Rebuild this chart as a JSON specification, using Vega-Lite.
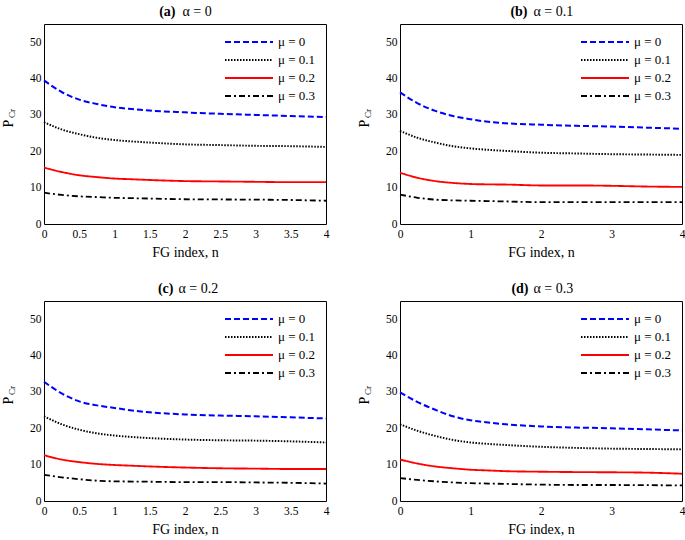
{
"$schema": "https://vega.github.io/schema/vega-lite/v6.json",
"background": "white",
"padding": {"left": 0, "top": 3, "right": 0, "bottom": 0},
"datasets": {
"a": [
{"n":0,"mu":"μ = 0","P":39.5},{"n":0.25,"mu":"μ = 0","P":36.3},{"n":0.5,"mu":"μ = 0","P":34.2},{"n":0.75,"mu":"μ = 0","P":33.0},{"n":1,"mu":"μ = 0","P":32.1},{"n":1.25,"mu":"μ = 0","P":31.6},{"n":1.5,"mu":"μ = 0","P":31.2},{"n":2,"mu":"μ = 0","P":30.7},{"n":2.5,"mu":"μ = 0","P":30.3},{"n":3,"mu":"μ = 0","P":30.0},{"n":3.5,"mu":"μ = 0","P":29.7},{"n":4,"mu":"μ = 0","P":29.4},
{"n":0,"mu":"μ = 0.1","P":28.0},{"n":0.25,"mu":"μ = 0.1","P":26.0},{"n":0.5,"mu":"μ = 0.1","P":24.7},{"n":0.75,"mu":"μ = 0.1","P":23.7},{"n":1,"mu":"μ = 0.1","P":23.1},{"n":1.25,"mu":"μ = 0.1","P":22.7},{"n":1.5,"mu":"μ = 0.1","P":22.4},{"n":2,"mu":"μ = 0.1","P":21.9},{"n":2.5,"mu":"μ = 0.1","P":21.7},{"n":3,"mu":"μ = 0.1","P":21.5},{"n":3.5,"mu":"μ = 0.1","P":21.4},{"n":4,"mu":"μ = 0.1","P":21.2},
{"n":0,"mu":"μ = 0.2","P":15.5},{"n":0.25,"mu":"μ = 0.2","P":14.3},{"n":0.5,"mu":"μ = 0.2","P":13.4},{"n":0.75,"mu":"μ = 0.2","P":12.9},{"n":1,"mu":"μ = 0.2","P":12.5},{"n":1.25,"mu":"μ = 0.2","P":12.3},{"n":1.5,"mu":"μ = 0.2","P":12.1},{"n":2,"mu":"μ = 0.2","P":11.8},{"n":2.5,"mu":"μ = 0.2","P":11.7},{"n":3,"mu":"μ = 0.2","P":11.6},{"n":3.5,"mu":"μ = 0.2","P":11.5},{"n":4,"mu":"μ = 0.2","P":11.5},
{"n":0,"mu":"μ = 0.3","P":8.6},{"n":0.25,"mu":"μ = 0.3","P":8.0},{"n":0.5,"mu":"μ = 0.3","P":7.6},{"n":0.75,"mu":"μ = 0.3","P":7.4},{"n":1,"mu":"μ = 0.3","P":7.2},{"n":1.25,"mu":"μ = 0.3","P":7.1},{"n":1.5,"mu":"μ = 0.3","P":7.0},{"n":2,"mu":"μ = 0.3","P":6.8},{"n":2.5,"mu":"μ = 0.3","P":6.75},{"n":3,"mu":"μ = 0.3","P":6.7},{"n":3.5,"mu":"μ = 0.3","P":6.6},{"n":4,"mu":"μ = 0.3","P":6.4}
],
"b": [
{"n":0,"mu":"μ = 0","P":36.2},{"n":0.25,"mu":"μ = 0","P":33.2},{"n":0.5,"mu":"μ = 0","P":31.1},{"n":0.75,"mu":"μ = 0","P":29.7},{"n":1,"mu":"μ = 0","P":28.8},{"n":1.25,"mu":"μ = 0","P":28.1},{"n":1.5,"mu":"μ = 0","P":27.7},{"n":2,"mu":"μ = 0","P":27.3},{"n":2.5,"mu":"μ = 0","P":27.0},{"n":3,"mu":"μ = 0","P":26.8},{"n":3.5,"mu":"μ = 0","P":26.5},{"n":4,"mu":"μ = 0","P":26.2},
{"n":0,"mu":"μ = 0.1","P":25.6},{"n":0.25,"mu":"μ = 0.1","P":23.7},{"n":0.5,"mu":"μ = 0.1","P":22.4},{"n":0.75,"mu":"μ = 0.1","P":21.4},{"n":1,"mu":"μ = 0.1","P":20.8},{"n":1.25,"mu":"μ = 0.1","P":20.4},{"n":1.5,"mu":"μ = 0.1","P":20.1},{"n":2,"mu":"μ = 0.1","P":19.6},{"n":2.5,"mu":"μ = 0.1","P":19.4},{"n":3,"mu":"μ = 0.1","P":19.2},{"n":3.5,"mu":"μ = 0.1","P":19.1},{"n":4,"mu":"μ = 0.1","P":19.0},
{"n":0,"mu":"μ = 0.2","P":14.1},{"n":0.25,"mu":"μ = 0.2","P":12.7},{"n":0.5,"mu":"μ = 0.2","P":11.8},{"n":0.75,"mu":"μ = 0.2","P":11.3},{"n":1,"mu":"μ = 0.2","P":11.0},{"n":1.25,"mu":"μ = 0.2","P":10.9},{"n":1.5,"mu":"μ = 0.2","P":10.85},{"n":2,"mu":"μ = 0.2","P":10.6},{"n":2.5,"mu":"μ = 0.2","P":10.6},{"n":3,"mu":"μ = 0.2","P":10.5},{"n":3.5,"mu":"μ = 0.2","P":10.3},{"n":4,"mu":"μ = 0.2","P":10.2},
{"n":0,"mu":"μ = 0.3","P":8.1},{"n":0.25,"mu":"μ = 0.3","P":7.2},{"n":0.5,"mu":"μ = 0.3","P":6.7},{"n":0.75,"mu":"μ = 0.3","P":6.5},{"n":1,"mu":"μ = 0.3","P":6.4},{"n":1.25,"mu":"μ = 0.3","P":6.3},{"n":1.5,"mu":"μ = 0.3","P":6.2},{"n":2,"mu":"μ = 0.3","P":6.0},{"n":2.5,"mu":"μ = 0.3","P":6.0},{"n":3,"mu":"μ = 0.3","P":6.0},{"n":3.5,"mu":"μ = 0.3","P":6.0},{"n":4,"mu":"μ = 0.3","P":6.0}
],
"c": [
{"n":0,"mu":"μ = 0","P":32.8},{"n":0.25,"mu":"μ = 0","P":29.6},{"n":0.5,"mu":"μ = 0","P":27.4},{"n":0.75,"mu":"μ = 0","P":26.3},{"n":1,"mu":"μ = 0","P":25.6},{"n":1.25,"mu":"μ = 0","P":24.9},{"n":1.5,"mu":"μ = 0","P":24.4},{"n":2,"mu":"μ = 0","P":23.8},{"n":2.5,"mu":"μ = 0","P":23.5},{"n":3,"mu":"μ = 0","P":23.3},{"n":3.5,"mu":"μ = 0","P":23.0},{"n":4,"mu":"μ = 0","P":22.7},
{"n":0,"mu":"μ = 0.1","P":23.3},{"n":0.25,"mu":"μ = 0.1","P":21.1},{"n":0.5,"mu":"μ = 0.1","P":19.6},{"n":0.75,"mu":"μ = 0.1","P":18.6},{"n":1,"mu":"μ = 0.1","P":18.0},{"n":1.25,"mu":"μ = 0.1","P":17.6},{"n":1.5,"mu":"μ = 0.1","P":17.3},{"n":2,"mu":"μ = 0.1","P":16.9},{"n":2.5,"mu":"μ = 0.1","P":16.7},{"n":3,"mu":"μ = 0.1","P":16.6},{"n":3.5,"mu":"μ = 0.1","P":16.4},{"n":4,"mu":"μ = 0.1","P":16.1},
{"n":0,"mu":"μ = 0.2","P":12.6},{"n":0.25,"mu":"μ = 0.2","P":11.4},{"n":0.5,"mu":"μ = 0.2","P":10.7},{"n":0.75,"mu":"μ = 0.2","P":10.2},{"n":1,"mu":"μ = 0.2","P":9.9},{"n":1.25,"mu":"μ = 0.2","P":9.7},{"n":1.5,"mu":"μ = 0.2","P":9.5},{"n":2,"mu":"μ = 0.2","P":9.2},{"n":2.5,"mu":"μ = 0.2","P":9.0},{"n":3,"mu":"μ = 0.2","P":8.9},{"n":3.5,"mu":"μ = 0.2","P":8.8},{"n":4,"mu":"μ = 0.2","P":8.8},
{"n":0,"mu":"μ = 0.3","P":7.2},{"n":0.25,"mu":"μ = 0.3","P":6.5},{"n":0.5,"mu":"μ = 0.3","P":6.0},{"n":0.75,"mu":"μ = 0.3","P":5.6},{"n":1,"mu":"μ = 0.3","P":5.4},{"n":1.25,"mu":"μ = 0.3","P":5.35},{"n":1.5,"mu":"μ = 0.3","P":5.3},{"n":2,"mu":"μ = 0.3","P":5.2},{"n":2.5,"mu":"μ = 0.3","P":5.2},{"n":3,"mu":"μ = 0.3","P":5.1},{"n":3.5,"mu":"μ = 0.3","P":5.0},{"n":4,"mu":"μ = 0.3","P":4.8}
],
"d": [
{"n":0,"mu":"μ = 0","P":29.9},{"n":0.25,"mu":"μ = 0","P":27.2},{"n":0.5,"mu":"μ = 0","P":25.1},{"n":0.75,"mu":"μ = 0","P":23.3},{"n":1,"mu":"μ = 0","P":22.2},{"n":1.25,"mu":"μ = 0","P":21.6},{"n":1.5,"mu":"μ = 0","P":21.1},{"n":2,"mu":"μ = 0","P":20.5},{"n":2.5,"mu":"μ = 0","P":20.2},{"n":3,"mu":"μ = 0","P":20.0},{"n":3.5,"mu":"μ = 0","P":19.7},{"n":4,"mu":"μ = 0","P":19.4},
{"n":0,"mu":"μ = 0.1","P":21.1},{"n":0.25,"mu":"μ = 0.1","P":19.3},{"n":0.5,"mu":"μ = 0.1","P":17.9},{"n":0.75,"mu":"μ = 0.1","P":16.8},{"n":1,"mu":"μ = 0.1","P":16.1},{"n":1.25,"mu":"μ = 0.1","P":15.7},{"n":1.5,"mu":"μ = 0.1","P":15.4},{"n":2,"mu":"μ = 0.1","P":14.9},{"n":2.5,"mu":"μ = 0.1","P":14.6},{"n":3,"mu":"μ = 0.1","P":14.4},{"n":3.5,"mu":"μ = 0.1","P":14.3},{"n":4,"mu":"μ = 0.1","P":14.2},
{"n":0,"mu":"μ = 0.2","P":11.4},{"n":0.25,"mu":"μ = 0.2","P":10.3},{"n":0.5,"mu":"μ = 0.2","P":9.5},{"n":0.75,"mu":"μ = 0.2","P":9.0},{"n":1,"mu":"μ = 0.2","P":8.6},{"n":1.25,"mu":"μ = 0.2","P":8.4},{"n":1.5,"mu":"μ = 0.2","P":8.2},{"n":2,"mu":"μ = 0.2","P":8.05},{"n":2.5,"mu":"μ = 0.2","P":7.95},{"n":3,"mu":"μ = 0.2","P":7.9},{"n":3.5,"mu":"μ = 0.2","P":7.8},{"n":4,"mu":"μ = 0.2","P":7.5},
{"n":0,"mu":"μ = 0.3","P":6.3},{"n":0.25,"mu":"μ = 0.3","P":5.8},{"n":0.5,"mu":"μ = 0.3","P":5.4},{"n":0.75,"mu":"μ = 0.3","P":5.1},{"n":1,"mu":"μ = 0.3","P":4.9},{"n":1.25,"mu":"μ = 0.3","P":4.8},{"n":1.5,"mu":"μ = 0.3","P":4.7},{"n":2,"mu":"μ = 0.3","P":4.5},{"n":2.5,"mu":"μ = 0.3","P":4.4},{"n":3,"mu":"μ = 0.3","P":4.4},{"n":3.5,"mu":"μ = 0.3","P":4.35},{"n":4,"mu":"μ = 0.3","P":4.3}
]
},
"vconcat": [
{"hconcat": [
{"width": 282, "height": 200, "data": {"name": "a"},
 "layer": [
  {"mark": {"type": "line", "interpolate": "monotone"},
   "encoding": {
    "x": {"field": "n", "type": "quantitative", "scale": {"domain": [0, 4], "nice": false},
      "axis": {"orient": "bottom", "values": [0,0.1,0.2,0.3,0.4,0.5,0.6,0.7,0.8,0.9,1,1.1,1.2,1.3,1.4,1.5,1.6,1.7,1.8,1.9,2,2.1,2.2,2.3,2.4,2.5,2.6,2.7,2.8,2.9,3,3.1,3.2,3.3,3.4,3.5,3.6,3.7,3.8,3.9,4],
        "labelExpr": "abs(datum.value*2-round(datum.value*2))<0.01 ? ''+datum.value : ''", "labelPadding": 4, "title": "FG index, n", "titlePadding": 6,
        "encode": {"ticks": {"update": {"y2": {"signal": "abs(datum.value*2-round(datum.value*2))<0.01 ? -5 : -3"}}}}}},
    "y": {"field": "P", "type": "quantitative", "scale": {"domain": [0, 55], "nice": false},
      "axis": {"orient": "left", "values": [0,2,4,6,8,10,12,14,16,18,20,22,24,26,28,30,32,34,36,38,40,42,44,46,48,50,52,54],
        "labelExpr": "datum.value%10==0 ? ''+datum.value : ''", "labelPadding": 3,
        "title": "P", "titleX": -32, "titleY": 99, "titleAngle": 270, "titleAlign": "center", "titleBaseline": "alphabetic", "titleFontSize": 14,
        "encode": {"ticks": {"update": {"x2": {"signal": "datum.value%10==0 ? 5 : 3"}}}}}},
    "color": {"field": "mu", "type": "nominal", "scale": {"domain": ["μ = 0","μ = 0.1","μ = 0.2","μ = 0.3"], "range": ["#0000ff","#000000","#ff0000","#000000"]}, "legend": {"title": null}},
    "strokeDash": {"field": "mu", "type": "nominal", "scale": {"domain": ["μ = 0","μ = 0.1","μ = 0.2","μ = 0.3"], "range": [[6,3],[1.5,1.5],[1,0],[6,3,2,3]]}, "legend": {"title": null}},
    "strokeWidth": {"field": "mu", "type": "nominal", "scale": {"domain": ["μ = 0","μ = 0.1","μ = 0.2","μ = 0.3"], "range": [2,1.8,2.5,2]}, "legend": {"title": null}}
   }},
  {"mark": {"type": "point", "opacity": 0},
   "encoding": {
    "x": {"field": "n", "type": "quantitative", "axis": {"orient": "top", "values": [0,0.1,0.2,0.3,0.4,0.5,0.6,0.7,0.8,0.9,1,1.1,1.2,1.3,1.4,1.5,1.6,1.7,1.8,1.9,2,2.1,2.2,2.3,2.4,2.5,2.6,2.7,2.8,2.9,3,3.1,3.2,3.3,3.4,3.5,3.6,3.7,3.8,3.9,4], "labels": false,
      "title": "(a)", "titleFontWeight": "bold", "titleAlign": "right", "titleBaseline": "alphabetic", "titleX": 131, "titleY": -9, "titleAngle": 0,
      "encode": {"ticks": {"update": {"y2": {"signal": "abs(datum.value*2-round(datum.value*2))<0.01 ? 5 : 3"}}}}}},
    "y": {"field": "P", "type": "quantitative", "axis": {"orient": "right", "values": [0,2,4,6,8,10,12,14,16,18,20,22,24,26,28,30,32,34,36,38,40,42,44,46,48,50,52,54], "labels": false, "title": null,
      "encode": {"ticks": {"update": {"x2": {"signal": "datum.value%10==0 ? -5 : -3"}}}}}}
   }},
  {"mark": {"type": "point", "opacity": 0},
   "encoding": {
    "x": {"field": "n", "type": "quantitative", "axis": {"orient": "top", "labels": false, "ticks": false, "title": "α = 0", "titleAlign": "left", "titleBaseline": "alphabetic", "titleX": 138, "titleY": -9, "titleAngle": 0}},
    "y": {"field": "P", "type": "quantitative", "axis": {"orient": "left", "labels": false, "ticks": false, "title": "Cr", "titleX": -30, "titleY": 89, "titleAngle": 270, "titleAlign": "center", "titleBaseline": "alphabetic", "titleFontSize": 9}}
   }}
 ],
 "resolve": {"axis": {"x": "independent", "y": "independent"}}
},
{"width": 282, "height": 200, "data": {"name": "b"},
 "layer": [
  {"mark": {"type": "line", "interpolate": "monotone"},
   "encoding": {
    "x": {"field": "n", "type": "quantitative", "scale": {"domain": [0, 4], "nice": false},
      "axis": {"orient": "bottom", "values": [0,0.1,0.2,0.3,0.4,0.5,0.6,0.7,0.8,0.9,1,1.1,1.2,1.3,1.4,1.5,1.6,1.7,1.8,1.9,2,2.1,2.2,2.3,2.4,2.5,2.6,2.7,2.8,2.9,3,3.1,3.2,3.3,3.4,3.5,3.6,3.7,3.8,3.9,4],
        "labelExpr": "abs(datum.value-round(datum.value))<0.01 ? ''+datum.value : ''", "labelPadding": 4, "title": "FG index, n", "titlePadding": 6,
        "encode": {"ticks": {"update": {"y2": {"signal": "abs(datum.value-round(datum.value))<0.01 ? -5 : -3"}}}}}},
    "y": {"field": "P", "type": "quantitative", "scale": {"domain": [0, 55], "nice": false},
      "axis": {"orient": "left", "values": [0,2,4,6,8,10,12,14,16,18,20,22,24,26,28,30,32,34,36,38,40,42,44,46,48,50,52,54],
        "labelExpr": "datum.value%10==0 ? ''+datum.value : ''", "labelPadding": 3,
        "title": "P", "titleX": -32, "titleY": 99, "titleAngle": 270, "titleAlign": "center", "titleBaseline": "alphabetic", "titleFontSize": 14,
        "encode": {"ticks": {"update": {"x2": {"signal": "datum.value%10==0 ? 5 : 3"}}}}}},
    "color": {"field": "mu", "type": "nominal", "scale": {"domain": ["μ = 0","μ = 0.1","μ = 0.2","μ = 0.3"], "range": ["#0000ff","#000000","#ff0000","#000000"]}, "legend": {"title": null}},
    "strokeDash": {"field": "mu", "type": "nominal", "scale": {"domain": ["μ = 0","μ = 0.1","μ = 0.2","μ = 0.3"], "range": [[6,3],[1.5,1.5],[1,0],[6,3,2,3]]}, "legend": {"title": null}},
    "strokeWidth": {"field": "mu", "type": "nominal", "scale": {"domain": ["μ = 0","μ = 0.1","μ = 0.2","μ = 0.3"], "range": [2,1.8,2.5,2]}, "legend": {"title": null}}
   }},
  {"mark": {"type": "point", "opacity": 0},
   "encoding": {
    "x": {"field": "n", "type": "quantitative", "axis": {"orient": "top", "values": [0,0.1,0.2,0.3,0.4,0.5,0.6,0.7,0.8,0.9,1,1.1,1.2,1.3,1.4,1.5,1.6,1.7,1.8,1.9,2,2.1,2.2,2.3,2.4,2.5,2.6,2.7,2.8,2.9,3,3.1,3.2,3.3,3.4,3.5,3.6,3.7,3.8,3.9,4], "labels": false,
      "title": "(b)", "titleFontWeight": "bold", "titleAlign": "right", "titleBaseline": "alphabetic", "titleX": 127, "titleY": -9, "titleAngle": 0,
      "encode": {"ticks": {"update": {"y2": {"signal": "abs(datum.value-round(datum.value))<0.01 ? 5 : 3"}}}}}},
    "y": {"field": "P", "type": "quantitative", "axis": {"orient": "right", "values": [0,2,4,6,8,10,12,14,16,18,20,22,24,26,28,30,32,34,36,38,40,42,44,46,48,50,52,54], "labels": false, "title": null,
      "encode": {"ticks": {"update": {"x2": {"signal": "datum.value%10==0 ? -5 : -3"}}}}}}
   }},
  {"mark": {"type": "point", "opacity": 0},
   "encoding": {
    "x": {"field": "n", "type": "quantitative", "axis": {"orient": "top", "labels": false, "ticks": false, "title": "α = 0.1", "titleAlign": "left", "titleBaseline": "alphabetic", "titleX": 133, "titleY": -9, "titleAngle": 0}},
    "y": {"field": "P", "type": "quantitative", "axis": {"orient": "left", "labels": false, "ticks": false, "title": "Cr", "titleX": -30, "titleY": 89, "titleAngle": 270, "titleAlign": "center", "titleBaseline": "alphabetic", "titleFontSize": 9}}
   }}
 ],
 "resolve": {"axis": {"x": "independent", "y": "independent"}}
}
], "spacing": 25,
"resolve": {"scale": {"color": "independent", "strokeDash": "independent", "strokeWidth": "independent"}, "legend": {"color": "independent", "strokeDash": "independent", "strokeWidth": "independent"}}},
{"hconcat": [
{"width": 282, "height": 200, "data": {"name": "c"},
 "layer": [
  {"mark": {"type": "line", "interpolate": "monotone"},
   "encoding": {
    "x": {"field": "n", "type": "quantitative", "scale": {"domain": [0, 4], "nice": false},
      "axis": {"orient": "bottom", "values": [0,0.1,0.2,0.3,0.4,0.5,0.6,0.7,0.8,0.9,1,1.1,1.2,1.3,1.4,1.5,1.6,1.7,1.8,1.9,2,2.1,2.2,2.3,2.4,2.5,2.6,2.7,2.8,2.9,3,3.1,3.2,3.3,3.4,3.5,3.6,3.7,3.8,3.9,4],
        "labelExpr": "abs(datum.value*2-round(datum.value*2))<0.01 ? ''+datum.value : ''", "labelPadding": 4, "title": "FG index, n", "titlePadding": 6,
        "encode": {"ticks": {"update": {"y2": {"signal": "abs(datum.value*2-round(datum.value*2))<0.01 ? -5 : -3"}}}}}},
    "y": {"field": "P", "type": "quantitative", "scale": {"domain": [0, 55], "nice": false},
      "axis": {"orient": "left", "values": [0,2,4,6,8,10,12,14,16,18,20,22,24,26,28,30,32,34,36,38,40,42,44,46,48,50,52,54],
        "labelExpr": "datum.value%10==0 ? ''+datum.value : ''", "labelPadding": 3,
        "title": "P", "titleX": -32, "titleY": 99, "titleAngle": 270, "titleAlign": "center", "titleBaseline": "alphabetic", "titleFontSize": 14,
        "encode": {"ticks": {"update": {"x2": {"signal": "datum.value%10==0 ? 5 : 3"}}}}}},
    "color": {"field": "mu", "type": "nominal", "scale": {"domain": ["μ = 0","μ = 0.1","μ = 0.2","μ = 0.3"], "range": ["#0000ff","#000000","#ff0000","#000000"]}, "legend": {"title": null}},
    "strokeDash": {"field": "mu", "type": "nominal", "scale": {"domain": ["μ = 0","μ = 0.1","μ = 0.2","μ = 0.3"], "range": [[6,3],[1.5,1.5],[1,0],[6,3,2,3]]}, "legend": {"title": null}},
    "strokeWidth": {"field": "mu", "type": "nominal", "scale": {"domain": ["μ = 0","μ = 0.1","μ = 0.2","μ = 0.3"], "range": [2,1.8,2.5,2]}, "legend": {"title": null}}
   }},
  {"mark": {"type": "point", "opacity": 0},
   "encoding": {
    "x": {"field": "n", "type": "quantitative", "axis": {"orient": "top", "values": [0,0.1,0.2,0.3,0.4,0.5,0.6,0.7,0.8,0.9,1,1.1,1.2,1.3,1.4,1.5,1.6,1.7,1.8,1.9,2,2.1,2.2,2.3,2.4,2.5,2.6,2.7,2.8,2.9,3,3.1,3.2,3.3,3.4,3.5,3.6,3.7,3.8,3.9,4], "labels": false,
      "title": "(c)", "titleFontWeight": "bold", "titleAlign": "right", "titleBaseline": "alphabetic", "titleX": 129, "titleY": -9, "titleAngle": 0,
      "encode": {"ticks": {"update": {"y2": {"signal": "abs(datum.value*2-round(datum.value*2))<0.01 ? 5 : 3"}}}}}},
    "y": {"field": "P", "type": "quantitative", "axis": {"orient": "right", "values": [0,2,4,6,8,10,12,14,16,18,20,22,24,26,28,30,32,34,36,38,40,42,44,46,48,50,52,54], "labels": false, "title": null,
      "encode": {"ticks": {"update": {"x2": {"signal": "datum.value%10==0 ? -5 : -3"}}}}}}
   }},
  {"mark": {"type": "point", "opacity": 0},
   "encoding": {
    "x": {"field": "n", "type": "quantitative", "axis": {"orient": "top", "labels": false, "ticks": false, "title": "α = 0.2", "titleAlign": "left", "titleBaseline": "alphabetic", "titleX": 134, "titleY": -9, "titleAngle": 0}},
    "y": {"field": "P", "type": "quantitative", "axis": {"orient": "left", "labels": false, "ticks": false, "title": "Cr", "titleX": -30, "titleY": 89, "titleAngle": 270, "titleAlign": "center", "titleBaseline": "alphabetic", "titleFontSize": 9}}
   }}
 ],
 "resolve": {"axis": {"x": "independent", "y": "independent"}}
},
{"width": 282, "height": 200, "data": {"name": "d"},
 "layer": [
  {"mark": {"type": "line", "interpolate": "monotone"},
   "encoding": {
    "x": {"field": "n", "type": "quantitative", "scale": {"domain": [0, 4], "nice": false},
      "axis": {"orient": "bottom", "values": [0,0.1,0.2,0.3,0.4,0.5,0.6,0.7,0.8,0.9,1,1.1,1.2,1.3,1.4,1.5,1.6,1.7,1.8,1.9,2,2.1,2.2,2.3,2.4,2.5,2.6,2.7,2.8,2.9,3,3.1,3.2,3.3,3.4,3.5,3.6,3.7,3.8,3.9,4],
        "labelExpr": "abs(datum.value-round(datum.value))<0.01 ? ''+datum.value : ''", "labelPadding": 4, "title": "FG index, n", "titlePadding": 6,
        "encode": {"ticks": {"update": {"y2": {"signal": "abs(datum.value-round(datum.value))<0.01 ? -5 : -3"}}}}}},
    "y": {"field": "P", "type": "quantitative", "scale": {"domain": [0, 55], "nice": false},
      "axis": {"orient": "left", "values": [0,2,4,6,8,10,12,14,16,18,20,22,24,26,28,30,32,34,36,38,40,42,44,46,48,50,52,54],
        "labelExpr": "datum.value%10==0 ? ''+datum.value : ''", "labelPadding": 3,
        "title": "P", "titleX": -32, "titleY": 99, "titleAngle": 270, "titleAlign": "center", "titleBaseline": "alphabetic", "titleFontSize": 14,
        "encode": {"ticks": {"update": {"x2": {"signal": "datum.value%10==0 ? 5 : 3"}}}}}},
    "color": {"field": "mu", "type": "nominal", "scale": {"domain": ["μ = 0","μ = 0.1","μ = 0.2","μ = 0.3"], "range": ["#0000ff","#000000","#ff0000","#000000"]}, "legend": {"title": null}},
    "strokeDash": {"field": "mu", "type": "nominal", "scale": {"domain": ["μ = 0","μ = 0.1","μ = 0.2","μ = 0.3"], "range": [[6,3],[1.5,1.5],[1,0],[6,3,2,3]]}, "legend": {"title": null}},
    "strokeWidth": {"field": "mu", "type": "nominal", "scale": {"domain": ["μ = 0","μ = 0.1","μ = 0.2","μ = 0.3"], "range": [2,1.8,2.5,2]}, "legend": {"title": null}}
   }},
  {"mark": {"type": "point", "opacity": 0},
   "encoding": {
    "x": {"field": "n", "type": "quantitative", "axis": {"orient": "top", "values": [0,0.1,0.2,0.3,0.4,0.5,0.6,0.7,0.8,0.9,1,1.1,1.2,1.3,1.4,1.5,1.6,1.7,1.8,1.9,2,2.1,2.2,2.3,2.4,2.5,2.6,2.7,2.8,2.9,3,3.1,3.2,3.3,3.4,3.5,3.6,3.7,3.8,3.9,4], "labels": false,
      "title": "(d)", "titleFontWeight": "bold", "titleAlign": "right", "titleBaseline": "alphabetic", "titleX": 128, "titleY": -9, "titleAngle": 0,
      "encode": {"ticks": {"update": {"y2": {"signal": "abs(datum.value-round(datum.value))<0.01 ? 5 : 3"}}}}}},
    "y": {"field": "P", "type": "quantitative", "axis": {"orient": "right", "values": [0,2,4,6,8,10,12,14,16,18,20,22,24,26,28,30,32,34,36,38,40,42,44,46,48,50,52,54], "labels": false, "title": null,
      "encode": {"ticks": {"update": {"x2": {"signal": "datum.value%10==0 ? -5 : -3"}}}}}}
   }},
  {"mark": {"type": "point", "opacity": 0},
   "encoding": {
    "x": {"field": "n", "type": "quantitative", "axis": {"orient": "top", "labels": false, "ticks": false, "title": "α = 0.3", "titleAlign": "left", "titleBaseline": "alphabetic", "titleX": 133, "titleY": -9, "titleAngle": 0}},
    "y": {"field": "P", "type": "quantitative", "axis": {"orient": "left", "labels": false, "ticks": false, "title": "Cr", "titleX": -30, "titleY": 89, "titleAngle": 270, "titleAlign": "center", "titleBaseline": "alphabetic", "titleFontSize": 9}}
   }}
 ],
 "resolve": {"axis": {"x": "independent", "y": "independent"}}
}
], "spacing": 25,
"resolve": {"scale": {"color": "independent", "strokeDash": "independent", "strokeWidth": "independent"}, "legend": {"color": "independent", "strokeDash": "independent", "strokeWidth": "independent"}}}
],
"spacing": 20,
"resolve": {"scale": {"color": "independent", "strokeDash": "independent", "strokeWidth": "independent"}, "legend": {"color": "independent", "strokeDash": "independent", "strokeWidth": "independent"}},
"config": {
  "font": "Liberation Serif",
  "view": {"stroke": "black", "strokeWidth": 1},
  "axis": {"grid": false, "domain": false, "labelFont": "Liberation Serif", "labelFontSize": 11.5, "labelColor": "black", "titleFont": "Liberation Serif", "titleFontSize": 14, "titleFontWeight": "normal", "titleColor": "black", "tickColor": "black", "tickSize": 0, "tickWidth": 1, "labelFlush": false, "labelOverlap": false, "labelBound": false},
  "legend": {"orient": "top-right", "offset": 10, "symbolType": "stroke", "symbolSize": 2304, "clipHeight": 16, "rowPadding": 2, "labelFont": "Liberation Serif", "labelFontSize": 13, "labelColor": "black", "labelOffset": 4, "padding": 0}
}
}
